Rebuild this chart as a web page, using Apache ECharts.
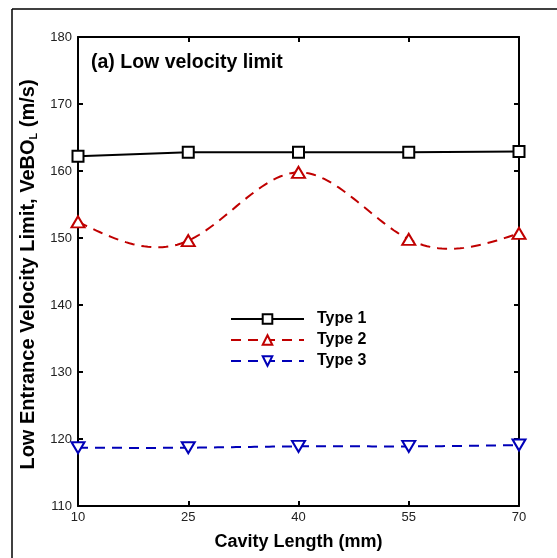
<!DOCTYPE html>
<html>
<head>
<meta charset="utf-8">
<script src="https://cdn.jsdelivr.net/npm/echarts@6/dist/echarts.min.js"></script>
<style>
  html, body { margin: 0; padding: 0; background: #fff; }
  #chart { width: 557px; height: 558px; }
</style>
</head>
<body>
<div id="chart"></div>
<script>
// cavity length (mm)
var cavityLength = [10, 25, 40, 55, 70]
var type1 = [162.2, 162.8, 162.8, 162.8, 162.9]
var type2 = [152.4, 149.6, 159.8, 149.8, 150.7]
var type3 = [118.7, 118.7, 118.9, 118.9, 119.1]

function pairs(ys) {
  return cavityLength.map(function (x, i) { return [x, ys[i]] })
}

// natural cubic spline through the measured points (how the original plot draws its curves)
function splinePath(xs, ys, steps) {
  var n = xs.length, h = [], M = new Array(n).fill(0)
  for (var i = 0; i < n - 1; i++) h.push(xs[i + 1] - xs[i])
  var a = [], b = [], c = [], d = []
  for (var i = 1; i < n - 1; i++) {
    a.push(h[i - 1]); b.push(2 * (h[i - 1] + h[i])); c.push(h[i])
    d.push(6 * ((ys[i + 1] - ys[i]) / h[i] - (ys[i] - ys[i - 1]) / h[i - 1]))
  }
  var m = d.length
  for (var i = 1; i < m; i++) {
    var w = a[i] / b[i - 1]
    b[i] -= w * c[i - 1]; d[i] -= w * d[i - 1]
  }
  for (var i = m - 1; i >= 0; i--) {
    M[i + 1] = (d[i] - (i < m - 1 ? c[i] * M[i + 2] : 0)) / b[i]
  }
  var out = []
  for (var i = 0; i < n - 1; i++) {
    for (var s = 0; s <= steps; s++) {
      if (i > 0 && s === 0) continue
      var x = xs[i] + h[i] * s / steps
      var A = (xs[i + 1] - x), B = (x - xs[i])
      var y = M[i] * A * A * A / (6 * h[i]) + M[i + 1] * B * B * B / (6 * h[i]) +
        (ys[i] / h[i] - M[i] * h[i] / 6) * A + (ys[i + 1] / h[i] - M[i + 1] * h[i] / 6) * B
      out.push([x, y])
    }
  }
  return out
}

function splineSeries(ys, color) {
  return {
    type: 'custom', silent: true, z: 1,
    data: [[cavityLength[0], ys[0]]],
    renderItem: function (params, api) {
      var pts = splinePath(cavityLength, ys, 30).map(function (p) { return api.coord(p) })
      return {
        type: 'polyline',
        shape: { points: pts },
        style: { stroke: color, lineWidth: 2, lineDash: [10, 7], fill: null }
      }
    }
  }
}

var font = 'Arial, "Liberation Sans", Helvetica, sans-serif'
var red = '#c00000'
var blue = '#0000b8'
var chart = echarts.init(document.getElementById('chart'))

var boxAxis = {
  axisLine: { show: true, lineStyle: { color: '#000', width: 2 } },
  axisTick: { show: true, inside: true, length: 5, lineStyle: { color: '#000', width: 2 } },
  splitLine: { show: false }
}

chart.setOption({
  animation: false,
  backgroundColor: '#fff',
  textStyle: { fontFamily: font },
  grid: { left: 78, right: 38, top: 37, bottom: 52 },
  title: {
    text: '(a) Low velocity limit',
    left: 91, top: 53, padding: 0,
    textStyle: { fontSize: 19.5, fontWeight: 'bold', color: '#000', fontFamily: font }
  },
  legend: {
    orient: 'vertical',
    left: 230, top: 310,
    itemWidth: 73, itemHeight: 12, itemGap: 3,
    padding: 0,
    textStyle: { fontSize: 16, fontWeight: 'bold', color: '#000', lineHeight: 18, padding: [0, 0, 0, 8] },
    data: [
      { name: 'Type 1' },
      { name: 'Type 2', lineStyle: { opacity: 1 } },
      { name: 'Type 3', lineStyle: { opacity: 1 } }
    ]
  },
  graphic: [
    { type: 'line', shape: { x1: 12, y1: 9, x2: 557, y2: 9 }, style: { stroke: '#000', lineWidth: 1.5 } },
    { type: 'line', shape: { x1: 12, y1: 9, x2: 12, y2: 558 }, style: { stroke: '#000', lineWidth: 1.5 } }
  ],
  xAxis: [
    Object.assign({
      type: 'value', min: 10, max: 70, interval: 15,
      name: 'Cavity Length (mm)', nameLocation: 'middle', nameGap: 27,
      nameTextStyle: { fontSize: 18, fontWeight: 'bold', color: '#000' },
      axisLabel: { fontSize: 13, color: '#222', margin: 5 }
    }, boxAxis),
    Object.assign({
      type: 'value', position: 'top', min: 10, max: 70, interval: 15,
      axisLabel: { show: false }
    }, boxAxis)
  ],
  yAxis: [
    Object.assign({
      type: 'value', min: 110, max: 180, interval: 10,
      name: 'Low Entrance Velocity Limit, VeBO{s|L} (m/s)',
      nameLocation: 'middle', nameGap: 38, nameRotate: 90,
      nameTextStyle: {
        fontSize: 20, fontWeight: 'bold', color: '#000', padding: [0, 6, 0, 0],
        rich: { s: { fontSize: 11, fontWeight: 'bold', color: '#000', verticalAlign: 'bottom', padding: [10, 0, 0, 0] } }
      },
      axisLabel: { fontSize: 13, color: '#222', margin: 6 }
    }, boxAxis),
    Object.assign({
      type: 'value', position: 'right', min: 110, max: 180, interval: 10,
      axisLabel: { show: false }
    }, boxAxis)
  ],
  series: [
    {
      name: 'Type 1', type: 'line', data: pairs(type1), z: 3,
      symbol: 'rect', symbolSize: 11,
      itemStyle: { color: '#fff', borderColor: '#000', borderWidth: 2 },
      lineStyle: { color: '#000', width: 2 }
    },
    splineSeries(type2, red),
    {
      name: 'Type 2', type: 'line', data: pairs(type2), z: 3,
      symbol: 'triangle', symbolSize: [13, 11],
      itemStyle: { color: '#fff', borderColor: red, borderWidth: 2 },
      lineStyle: { color: red, width: 2, type: [10, 7], opacity: 0 }
    },
    splineSeries(type3, blue),
    {
      name: 'Type 3', type: 'line', data: pairs(type3), z: 3,
      symbol: 'triangle', symbolRotate: 180, symbolSize: [13, 11],
      itemStyle: { color: '#fff', borderColor: blue, borderWidth: 2 },
      lineStyle: { color: blue, width: 2, type: [10, 7], opacity: 0 }
    }
  ]
})
</script>
</body>
</html>
